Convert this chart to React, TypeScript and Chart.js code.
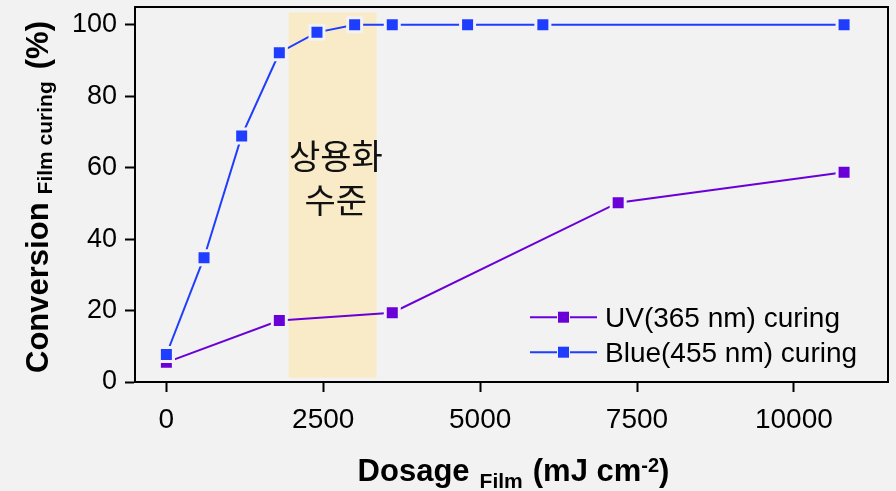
import React, { useEffect, useRef } from 'react';
import { Chart, registerables } from 'chart.js';

Chart.register(...registerables);

// ---- data ----
const uvDose = [0, 1800, 3600, 7200, 10800];
const uvConversion = [5.5, 17.2, 19.4, 50.2, 58.7];
const blueDose = [0, 600, 1200, 1800, 2400, 3000, 3600, 4800, 6000, 10800];
const blueConversion = [7.7, 34.8, 68.9, 92.2, 97.9, 100, 100, 100, 100, 100];
const xTicks = [0, 2500, 5000, 7500, 10000];
const yTicks = [0, 20, 40, 60, 80, 100];
const seriesLabels = ['UV(365 nm) curing', 'Blue(455 nm) curing'];
const seriesColors = ['#6a00d8', '#1f3dff'];
const bandX = [1950, 3350];
const bandY = [1.2, 103.5];
const bandLabel = ['상용화', '수준'];
const bandLabelX = 2700;
const bandLabelY = [63.2, 50.9];

const BG = '#f2f2f2';
const SANS = '"Liberation Sans", Arial, sans-serif';

type Seg = { t: string; size: number; dy: number; gap?: number };

function drawRich(ctx: CanvasRenderingContext2D, segs: Seg[]) {
  let total = 0;
  const widths: number[] = [];
  for (const s of segs) {
    ctx.font = `bold ${s.size}px ${SANS}`;
    const w = ctx.measureText(s.t).width;
    widths.push(w);
    total += w + (s.gap || 0);
  }
  let x = -total / 2;
  ctx.textAlign = 'left';
  ctx.textBaseline = 'alphabetic';
  segs.forEach((s, i) => {
    ctx.font = `bold ${s.size}px ${SANS}`;
    ctx.fillText(s.t, x, s.dy);
    x += widths[i] + (s.gap || 0);
  });
}

const decorPlugin = {
  id: 'decor',
  beforeDraw(chart: any) {
    const { ctx, width, height } = chart;
    ctx.save();
    ctx.fillStyle = BG;
    ctx.fillRect(0, 0, width, height);
    ctx.restore();
  },
  beforeDatasetsDraw(chart: any) {
    const { ctx, scales } = chart;
    const x = scales.x, y = scales.y;
    const l = x.getPixelForValue(bandX[0]);
    const r = x.getPixelForValue(bandX[1]);
    const t = y.getPixelForValue(bandY[1]);
    const b = y.getPixelForValue(bandY[0]);
    ctx.save();
    ctx.fillStyle = '#f9ebc8';
    ctx.fillRect(l, t, r - l, b - t);
    ctx.fillStyle = '#111';
    ctx.font = '34px "Noto Sans CJK KR", sans-serif';
    ctx.textAlign = 'center';
    ctx.textBaseline = 'middle';
    bandLabel.forEach((txt, i) => {
      ctx.fillText(txt, x.getPixelForValue(bandLabelX), y.getPixelForValue(bandLabelY[i]));
    });
    ctx.restore();
  },
  afterDraw(chart: any) {
    const { ctx, chartArea: ca } = chart;
    ctx.save();
    ctx.strokeStyle = '#000';
    ctx.lineWidth = 2;
    ctx.beginPath();
    ctx.moveTo(ca.left - 1, ca.top);
    ctx.lineTo(ca.right, ca.top);
    ctx.lineTo(ca.right, ca.bottom + 1);
    ctx.stroke();

    // legend
    const lx = ca.right - 358;
    seriesLabels.forEach((label, i) => {
      const cy = ca.bottom - 64.8 + i * 35;
      const color = seriesColors[i];
      ctx.strokeStyle = color;
      ctx.lineWidth = 2;
      ctx.beginPath();
      ctx.moveTo(lx, cy);
      ctx.lineTo(lx + 67, cy);
      ctx.stroke();
      const cx = lx + 33.5;
      ctx.fillStyle = BG;
      ctx.fillRect(cx - 6.5, cy - 6.5, 13, 13);
      ctx.fillStyle = color;
      ctx.fillRect(cx - 5.5, cy - 5.5, 11, 11);
      ctx.fillStyle = '#000';
      ctx.font = `28px ${SANS}`;
      ctx.textAlign = 'left';
      ctx.textBaseline = 'middle';
      ctx.fillText(label, lx + 75, cy + 2.5);
    });

    // x title
    ctx.fillStyle = '#000';
    ctx.save();
    ctx.translate((ca.left + ca.right) / 2 + 2, ca.bottom + 98.7);
    drawRich(ctx, [
      { t: 'Dosage', size: 31, dy: 0, gap: 10 },
      { t: 'Film', size: 21, dy: 7, gap: 10 },
      { t: '(mJ cm', size: 31, dy: 0 },
      { t: '-2', size: 20, dy: -9 },
      { t: ')', size: 31, dy: 0 },
    ]);
    ctx.restore();

    // y title
    ctx.save();
    ctx.translate(48, (ca.top + ca.bottom) / 2 + 2.5);
    ctx.rotate(-Math.PI / 2);
    drawRich(ctx, [
      { t: 'Conversion', size: 31, dy: 0, gap: 8 },
      { t: 'Film curing', size: 21, dy: 4, gap: 12 },
      { t: '(%)', size: 31, dy: 0 },
    ]);
    ctx.restore();
    ctx.restore();
  },
};

export default function App() {
  const ref = useRef<HTMLCanvasElement | null>(null);

  useEffect(() => {
    document.body.style.margin = '0';
    document.body.style.background = BG;
    const canvas = ref.current;
    if (!canvas) return;

    const pointCommon = {
      pointStyle: 'rect',
      pointRadius: 9.9,
      pointHoverRadius: 9.9,
      pointBorderWidth: 3,
      pointBorderColor: BG,
      borderWidth: 2,
      tension: 0,
      clip: false,
    };

    const chart = new Chart(canvas, {
      type: 'line',
      data: {
        datasets: [
          {
            label: seriesLabels[0],
            data: uvDose.map((x, i) => ({ x, y: uvConversion[i] })),
            borderColor: seriesColors[0],
            backgroundColor: seriesColors[0],
            pointBackgroundColor: seriesColors[0],
            order: 2,
            ...pointCommon,
          } as any,
          {
            label: seriesLabels[1],
            data: blueDose.map((x, i) => ({ x, y: blueConversion[i] })),
            borderColor: seriesColors[1],
            backgroundColor: seriesColors[1],
            pointBackgroundColor: seriesColors[1],
            order: 1,
            ...pointCommon,
          } as any,
        ],
      },
      options: {
        animation: false,
        responsive: false,
        devicePixelRatio: 1,
        layout: { autoPadding: false, padding: { top: 7, right: 8, left: 0, bottom: 0 } },
        plugins: {
          legend: { display: false },
          tooltip: { enabled: false },
          title: { display: false },
        },
        events: [],
        scales: {
          x: {
            type: 'linear',
            position: 'bottom',
            min: -500,
            max: 11500,
            afterBuildTicks: (s: any) => {
              s.ticks = xTicks.map((v) => ({ value: v }));
            },
            afterFit: (s: any) => {
              s.height = 109;
              s.paddingLeft = 0;
              s.paddingRight = 0;
            },
            ticks: {
              color: '#000',
              font: { family: SANS, size: 28 },
              padding: 11,
              maxRotation: 0,
              autoSkip: false,
              callback: (v: any) => String(v),
            },
            grid: {
              drawOnChartArea: false,
              drawTicks: true,
              tickLength: 10,
              tickWidth: 2,
              tickColor: '#000',
            },
            border: { display: true, color: '#000', width: 2 },
          },
          y: {
            type: 'linear',
            position: 'left',
            min: 0,
            max: 105,
            afterBuildTicks: (s: any) => {
              s.ticks = yTicks.map((v) => ({ value: v }));
            },
            afterFit: (s: any) => {
              s.width = 135;
              s.paddingTop = 0;
              s.paddingBottom = 0;
            },
            ticks: {
              color: '#000',
              font: { family: SANS, size: 27 },
              padding: 8,
              autoSkip: false,
              callback: (v: any) => String(v),
            },
            grid: {
              drawOnChartArea: false,
              drawTicks: true,
              tickLength: 10,
              tickWidth: 2,
              tickColor: '#000',
            },
            border: { display: true, color: '#000', width: 2 },
          },
        },
      } as any,
      plugins: [decorPlugin as any],
    });

    return () => chart.destroy();
  }, []);

  return (
    <div style={{ width: 896, height: 491, background: BG }}>
      <canvas ref={ref} width={896} height={491} style={{ display: 'block' }} />
    </div>
  );
}
